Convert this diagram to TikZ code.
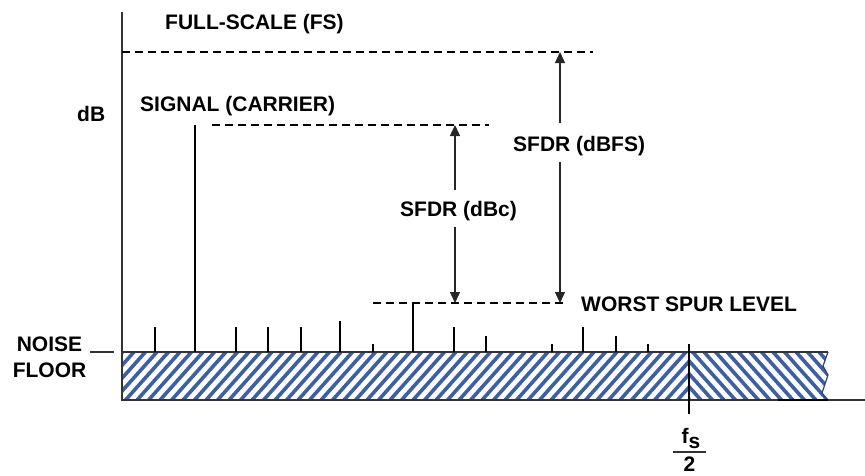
\documentclass[tikz,border=0pt]{standalone}
\usepackage{fontspec}
\setmainfont{Liberation Sans}
\usetikzlibrary{arrows.meta}
\definecolor{hatchblue}{HTML}{3F5FA3}
\definecolor{axisgray}{HTML}{333333}
\begin{document}
\begin{tikzpicture}[x=1pt,y=-1pt,
  lbl/.style={font=\fontsize{21}{24}\selectfont\bfseries, inner sep=0pt, text=black},
  axisln/.style={line width=1.4pt, draw=axisgray},
  spurln/.style={line width=2.4pt, draw=black},
  dashln/.style={line width=2pt, dash pattern=on 8pt off 5pt, draw=black},
  dimln/.style={line width=1.3pt, draw=black!85},
  tipend/.style={-{Triangle[length=11pt,width=10pt]}},
  hatchln/.style={line width=3.6pt, draw=hatchblue}]
\useasboundingbox (0,0) rectangle (865,475);
% hatched noise region
\begin{scope}
  \clip (122,352) rectangle (689,400);
  \foreach \k in {-6,...,55} {
    \draw[hatchln] ({122+\k*11.5},404) -- ({122+\k*11.5+50},348);
  }
\end{scope}
\begin{scope}
  \clip (689,352) -- (828,352) -- (823,366) -- (828,375) -- (822,393) -- (828,400) -- (689,400) -- cycle;
  \foreach \k in {-6,...,16} {
    \draw[hatchln] ({689+\k*11.5},348) -- ({689+\k*11.5+50},404);
  }
\end{scope}
\coordinate (z0) at (828,352);
\coordinate (z1) at (823,366);
\coordinate (z2) at (828,375);
\coordinate (z3) at (822,393);
\coordinate (z4) at (828,400);
\draw[line width=1.2pt, draw=hatchblue!70!black] (z0) -- (z1) -- (z2) -- (z3) -- (z4);
% axes
\coordinate (ytop) at (122,12);
\coordinate (orig) at (122,400);
\coordinate (xend) at (865,400);
\coordinate (nf0) at (122,352);
\coordinate (nf1) at (828,352);
\draw[axisln] (ytop) -- (orig) -- (xend);
\draw[axisln] (nf0) -- (nf1);
\draw[line width=2pt] (778,400) -- (z4);
% noise floor marker
\coordinate (nm0) at (90,352);
\coordinate (nm1) at (114,352);
\draw[line width=1.2pt, draw=axisgray] (nm0) -- (nm1);
% spurs
\foreach \x/\t [count=\i] in {155/327, 195/125, 236/327, 268/327, 301/327, 340/321, 373/344,
    413/303, 454/327, 486/336, 552/344, 583/327, 616/336, 648/344} {
  \coordinate (sb\i) at (\x,352);
  \coordinate (st\i) at (\x,\t);
  \draw[spurln] (sb\i) -- (st\i);
}
% fs/2 tick
\coordinate (fst) at (689,344);
\coordinate (fsb) at (689,414);
\draw[line width=2.2pt] (fst) -- (fsb);
% dashed levels
\coordinate (fs0) at (122,52);
\coordinate (fs1) at (593,52);
\draw[dashln] (fs0) -- (fs1);
\coordinate (sg0) at (212,125);
\coordinate (sg1) at (489,125);
\draw[dashln] (sg0) -- (sg1);
\coordinate (ws0) at (373,303);
\coordinate (ws1) at (566,303);
\draw[dashln] (ws0) -- (ws1);
% SFDR (dBc) arrow
\coordinate (ca) at (455,125);
\coordinate (cb) at (455,190);
\coordinate (cc) at (455,227);
\coordinate (cd) at (455,303);
\draw[dimln, tipend] (cb) -- (ca);
\draw[dimln, tipend] (cc) -- (cd);
% SFDR (dBFS) arrow
\coordinate (fa) at (560,52);
\coordinate (fb) at (560,123);
\coordinate (fc) at (560,162);
\coordinate (fd) at (560,303);
\draw[dimln, tipend] (fb) -- (fa);
\draw[dimln, tipend] (fc) -- (fd);
% labels
\node[lbl, anchor=base west] (lfs) at (165,29.5) {FULL-SCALE (FS)};
\node[lbl, anchor=base west] (ldb) at (77,121) {dB};
\node[lbl, anchor=base west] (lsig) at (140,111) {SIGNAL (CARRIER)};
\node[lbl, anchor=base west] (ldbfs) at (513,151.5) {SFDR (dBFS)};
\node[lbl, anchor=base west] (ldbc) at (400,216) {SFDR (dBc)};
\node[lbl, anchor=base west] (lws) at (581,311) {WORST SPUR LEVEL};
\node[lbl, anchor=base] (lnoise) at (49.5,351) {NOISE};
\node[lbl, anchor=base] (lfloor) at (49.5,377) {FLOOR};
\node[lbl, anchor=base] (lf) at (691,443) {f\raisebox{-5pt}{s}};
\coordinate (fr0) at (673,452);
\coordinate (fr1) at (706,452);
\draw[line width=1.4pt, draw=axisgray] (fr0) -- (fr1);
\node[lbl, anchor=base] (l2) at (689.5,471.5) {2};
\end{tikzpicture}
\end{document}
